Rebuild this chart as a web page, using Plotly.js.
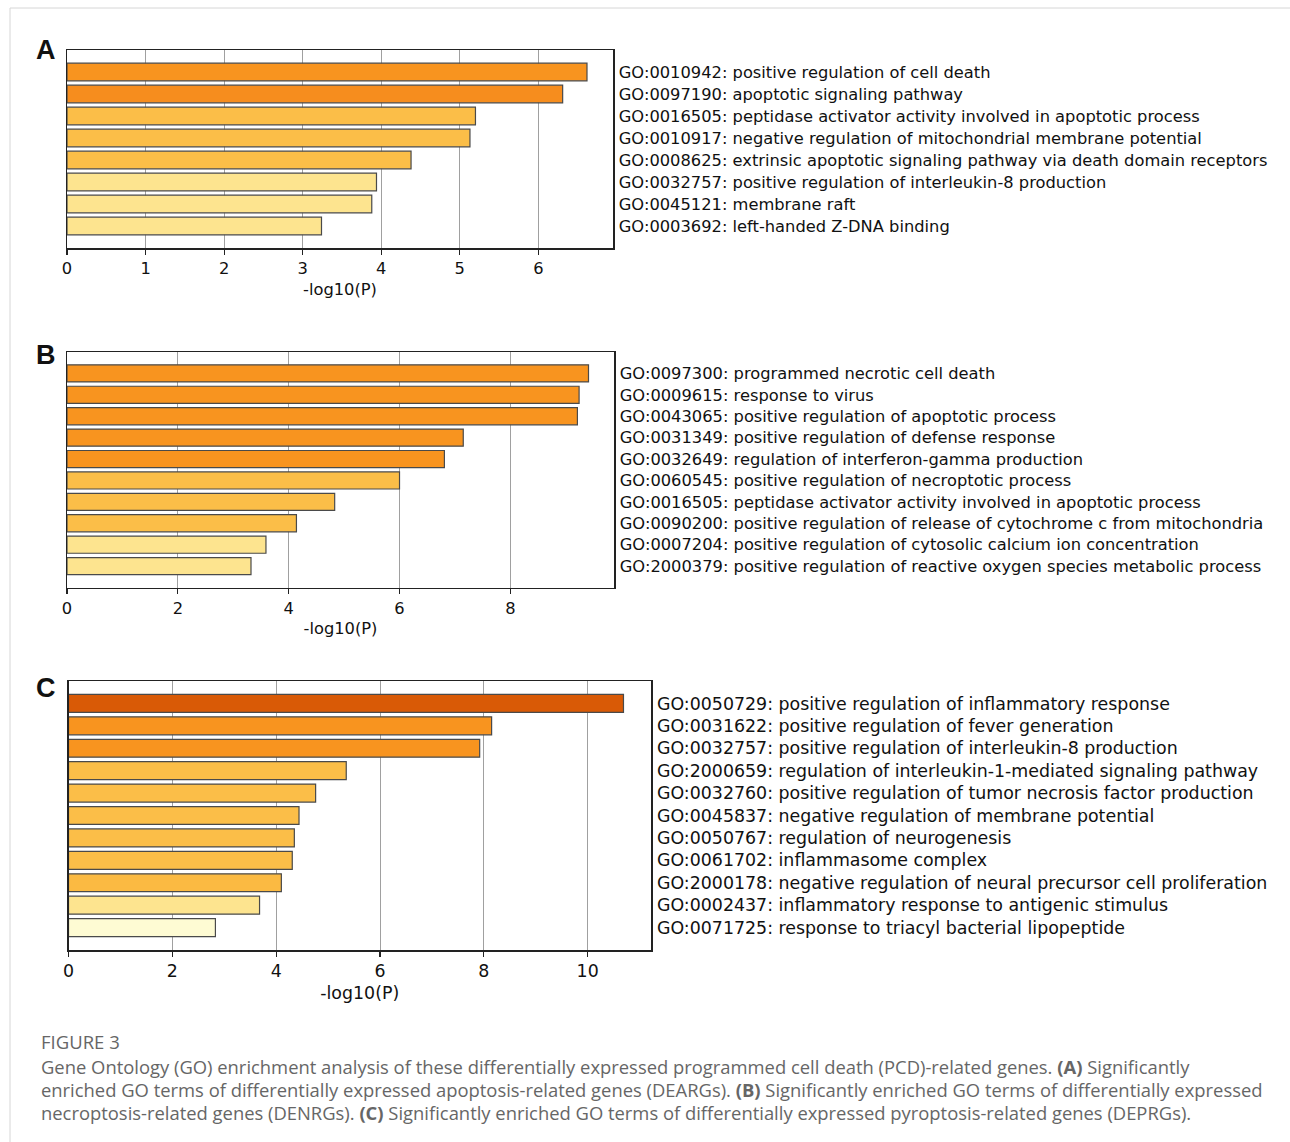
<!DOCTYPE html>
<html>
<head>
<meta charset="utf-8">
<script src="https://cdn.plot.ly/plotly-3.0.1.min.js"></script>
<style>
  html, body { margin: 0; padding: 0; background: #ffffff; }
  #chart { width: 1290px; height: 1142px; }
</style>
</head>
<body>
<div id="chart"></div>
<script>
// ---------- DATA ----------
const labelsA = [
  "GO:0010942: positive regulation of cell death",
  "GO:0097190: apoptotic signaling pathway",
  "GO:0016505: peptidase activator activity involved in apoptotic process",
  "GO:0010917: negative regulation of mitochondrial membrane potential",
  "GO:0008625: extrinsic apoptotic signaling pathway via death domain receptors",
  "GO:0032757: positive regulation of interleukin-8 production",
  "GO:0045121: membrane raft",
  "GO:0003692: left-handed Z-DNA binding"
];
const valuesA = [6.62, 6.31, 5.20, 5.13, 4.38, 3.94, 3.88, 3.24];

const labelsB = [
  "GO:0097300: programmed necrotic cell death",
  "GO:0009615: response to virus",
  "GO:0043065: positive regulation of apoptotic process",
  "GO:0031349: positive regulation of defense response",
  "GO:0032649: regulation of interferon-gamma production",
  "GO:0060545: positive regulation of necroptotic process",
  "GO:0016505: peptidase activator activity involved in apoptotic process",
  "GO:0090200: positive regulation of release of cytochrome c from mitochondria",
  "GO:0007204: positive regulation of cytosolic calcium ion concentration",
  "GO:2000379: positive regulation of reactive oxygen species metabolic process"
];
const valuesB = [9.41, 9.24, 9.21, 7.15, 6.81, 6.00, 4.83, 4.14, 3.59, 3.32];

const labelsC = [
  "GO:0050729: positive regulation of inflammatory response",
  "GO:0031622: positive regulation of fever generation",
  "GO:0032757: positive regulation of interleukin-8 production",
  "GO:2000659: regulation of interleukin-1-mediated signaling pathway",
  "GO:0032760: positive regulation of tumor necrosis factor production",
  "GO:0045837: negative regulation of membrane potential",
  "GO:0050767: regulation of neurogenesis",
  "GO:0061702: inflammasome complex",
  "GO:2000178: negative regulation of neural precursor cell proliferation",
  "GO:0002437: inflammatory response to antigenic stimulus",
  "GO:0071725: response to triacyl bacterial lipopeptide"
];
const valuesC = [10.69, 8.15, 7.92, 5.35, 4.76, 4.44, 4.35, 4.31, 4.10, 3.68, 2.83];

const panelLetters = ["A", "B", "C"];
const axisTitle = "-log10(P)";
const figureLabel = "FIGURE 3";
const captionLines = [
  "Gene Ontology (GO) enrichment analysis of these differentially expressed programmed cell death (PCD)-related genes. <b>(A)</b> Significantly",
  "enriched GO terms of differentially expressed apoptosis-related genes (DEARGs). <b>(B)</b> Significantly enriched GO terms of differentially expressed",
  "necroptosis-related genes (DENRGs). <b>(C)</b> Significantly enriched GO terms of differentially expressed pyroptosis-related genes (DEPRGs)."
];

// ---------- STYLE ----------
const C_DARK = "#D95A06", C_ORANGE = "#F8941F", C_MID = "#FBBE48", C_LIGHT = "#FDE48F", C_PALE = "#FEFBD3";
const colorsA = [C_ORANGE, "#F68D1E", C_MID, C_MID, C_MID, C_LIGHT, C_LIGHT, C_LIGHT];
const colorsB = [C_ORANGE, C_ORANGE, C_ORANGE, C_ORANGE, C_ORANGE, C_MID, C_MID, C_MID, C_LIGHT, C_LIGHT];
const colorsC = [C_DARK, C_ORANGE, C_ORANGE, C_MID, C_MID, C_MID, C_MID, C_MID, "#FBBA42", C_LIGHT, C_PALE];

const W = 1290, H = 1142;
const FONT = "DejaVu Sans, sans-serif";
const CAPFONT = "Open Sans, sans-serif";
const px = v => v / W;
const py = v => 1 - v / H;

function barTrace(vals, labs, cols, ax) {
  return {
    type: "bar", orientation: "h",
    x: vals, y: labs,
    xaxis: "x" + ax, yaxis: "y" + ax,
    width: 0.8,
    marker: { color: cols, line: { color: "#4a4a4a", width: 1.2 } },
    hoverinfo: "skip", showlegend: false
  };
}

function xAxis(domain, maxv, dtick, anchor, fs) {
  return {
    domain: domain, anchor: anchor, range: [0, maxv], autorange: false,
    dtick: dtick, tick0: 0,
    showgrid: true, gridcolor: "#a0a0a0", gridwidth: 1,
    zeroline: false,
    showline: true, mirror: true, linecolor: "#222222", linewidth: 1.5,
    ticks: "outside", ticklen: 5, tickwidth: 1.2, tickcolor: "#222222",
    tickfont: { family: FONT, size: fs, color: "#111111" },
    title: { text: axisTitle, font: { family: FONT, size: fs, color: "#111111" }, standoff: 6 },
    fixedrange: true
  };
}
function yAxis(domain, n, anchor, fs) {
  return {
    domain: domain, anchor: anchor, type: "category",
    range: [n, -1], autorange: false,
    side: "right", ticks: "", showgrid: false, zeroline: false,
    showline: true, mirror: true, linecolor: "#222222", linewidth: 1.5,
    tickfont: { family: FONT, size: fs, color: "#111111" },
    ticklabelstandoff: 1,
    fixedrange: true
  };
}

const data = [
  barTrace(valuesA, labelsA, colorsA, ""),
  barTrace(valuesB, labelsB, colorsB, "2"),
  barTrace(valuesC, labelsC, colorsC, "3")
];
data[0].xaxis = "x"; data[0].yaxis = "y";

function letter(t, x, y) {
  return { text: "<b>" + t + "</b>", xref: "paper", yref: "paper", x: px(x), y: py(y), showarrow: false,
           xanchor: "center", yanchor: "middle", font: { family: "Liberation Sans, Arial, sans-serif", size: 27, color: "#111" } };
}
function capLine(t, y, size) {
  return { text: t, xref: "paper", yref: "paper", x: px(39), y: py(y), showarrow: false,
           xanchor: "left", yanchor: "middle", font: { family: CAPFONT, size: size, color: "#666666" } };
}

const layout = {
  width: W, height: H,
  margin: { l: 0, r: 0, t: 0, b: 0 },
  paper_bgcolor: "#ffffff", plot_bgcolor: "#ffffff",
  bargap: 0.2,
  xaxis:  xAxis([px(67), px(613)], 6.951, 1, "y", 16.3),
  yaxis:  yAxis([py(248), py(50)], valuesA.length, "x", 16.3),
  xaxis2: xAxis([px(67), px(614)], 9.87, 2, "y2", 16.3),
  yaxis2: yAxis([py(587.5), py(352)], valuesB.length, "x2", 16.3),
  xaxis3: xAxis([px(68.5), px(651)], 11.22, 2, "y3", 17.4),
  yaxis3: yAxis([py(950), py(681)], valuesC.length, "x3", 17.4),
  shapes: [
    { type: "line", xref: "paper", yref: "paper", x0: px(10), x1: 1, y0: py(8), y1: py(8), line: { color: "#d6d6d6", width: 1 } },
    { type: "line", xref: "paper", yref: "paper", x0: px(10), x1: px(10), y0: py(8), y1: 0, line: { color: "#d6d6d6", width: 1 } }
  ],
  annotations: [
    letter(panelLetters[0], 46, 50),
    letter(panelLetters[1], 46, 355),
    letter(panelLetters[2], 46, 688),
    capLine(figureLabel, 1041, 18.5),
    capLine(captionLines[0], 1066, 18.4),
    capLine(captionLines[1], 1089, 18.4),
    capLine(captionLines[2], 1112, 18.4)
  ]
};

Plotly.newPlot("chart", data, layout, { displayModeBar: false, staticPlot: true });
</script>
</body>
</html>
